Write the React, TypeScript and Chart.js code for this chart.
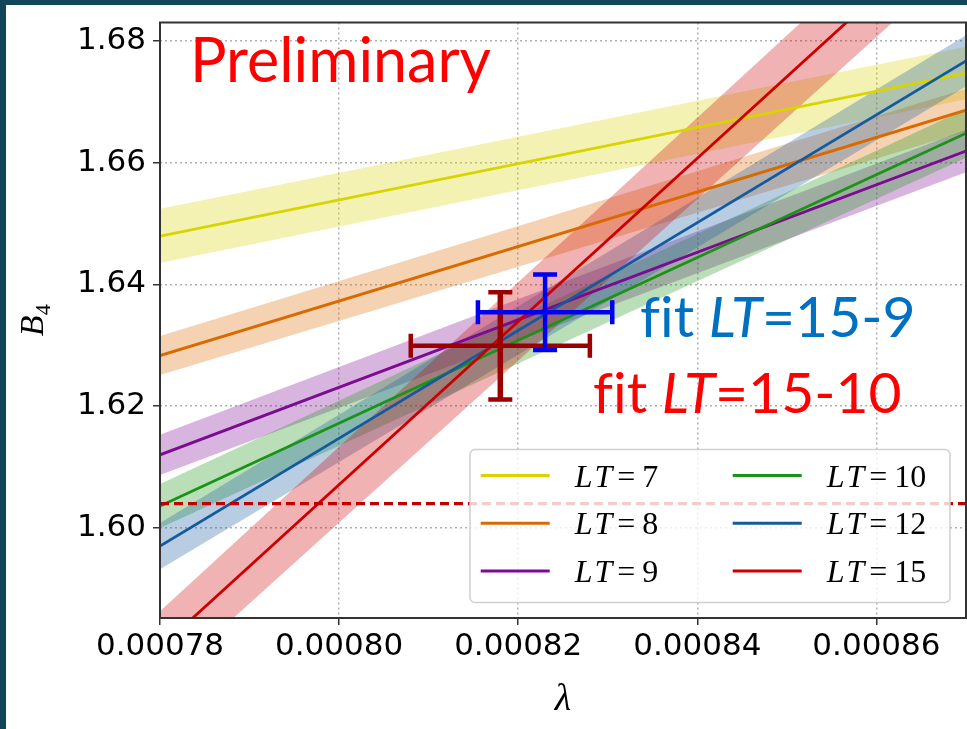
import React, { useEffect, useRef } from 'react';
import { Chart, registerables } from 'chart.js';

Chart.register(...registerables);

// ---------- data ----------
const lambdaRange = [0.00078, 0.00087];
const yRange = [1.5852, 1.683];
const xTicks = [0.00078, 0.0008, 0.00082, 0.00084, 0.00086];
const yTicks = [1.6, 1.62, 1.64, 1.66, 1.68];

const seriesLT = ['7', '8', '9', '10', '12', '15'];
const seriesColors = ['#d8d400', '#d96a00', '#7d0a92', '#1a9414', '#135a9e', '#cc0000'];

const lt7Center = [1.6479, 1.6747];
const lt7Upper = [1.6524, 1.679];
const lt7Lower = [1.6435, 1.6704];
const lt8Center = [1.6283, 1.6686];
const lt8Upper = [1.6315, 1.6721];
const lt8Lower = [1.6251, 1.6651];
const lt9Center = [1.612, 1.6619];
const lt9Upper = [1.6153, 1.6654];
const lt9Lower = [1.6087, 1.6584];
const lt10Center = [1.6036, 1.6648];
const lt10Upper = [1.6072, 1.6688];
const lt10Lower = [1.6, 1.6608];
const lt12Center = [1.597, 1.6767];
const lt12Upper = [1.6008, 1.6809];
const lt12Lower = [1.5932, 1.6725];
const lt15Center = [1.5803, 1.7009];
const lt15Upper = [1.5863, 1.7079];
const lt15Lower = [1.5743, 1.6939];

const refB4 = [1.604, 1.604];

const fitNames = ['15-10', '15-9'];
const fitLambda = [0.000818, 0.000823];
const fitLambdaErr = [0.00001, 0.0000075];
const fitB4 = [1.6299, 1.6354];
const fitB4Err = [0.0088, 0.0062];
const fitBarColors = ['#9b0000', '#0000f0'];
const fitTextColors = ['#ff0000', '#0070c0'];

const centers = [lt7Center, lt8Center, lt9Center, lt10Center, lt12Center, lt15Center];
const uppers = [lt7Upper, lt8Upper, lt9Upper, lt10Upper, lt12Upper, lt15Upper];
const lowers = [lt7Lower, lt8Lower, lt9Lower, lt10Lower, lt12Lower, lt15Lower];

function hexA(hex: string, a: number) {
  const n = parseInt(hex.slice(1), 16);
  return `rgba(${(n >> 16) & 255},${(n >> 8) & 255},${n & 255},${a})`;
}

const pts = (ys: number[]) => lambdaRange.map((x, k) => ({ x, y: ys[k] }));

function drawRich(ctx: CanvasRenderingContext2D, parts: [string, boolean][], x: number, y: number, size: number, family: string, color: string) {
  ctx.fillStyle = color;
  ctx.textBaseline = 'alphabetic';
  ctx.textAlign = 'left';
  let cx = x;
  for (const [t, it] of parts) {
    ctx.font = `${it ? 'italic ' : ''}${size}px ${family}`;
    ctx.fillText(t, cx, y);
    cx += ctx.measureText(t).width;
  }
}

const overlayPlugin = {
  id: 'overlay',
  afterDatasetsDraw(chart: any) {
    const { ctx, scales } = chart;
    const xs = scales.x, ys = scales.y;
    ctx.save();
    ctx.lineCap = 'butt';
    fitLambda.forEach((lx, i) => {
      const cx = xs.getPixelForValue(lx);
      const cy = ys.getPixelForValue(fitB4[i]);
      const x0 = xs.getPixelForValue(lx - fitLambdaErr[i]);
      const x1 = xs.getPixelForValue(lx + fitLambdaErr[i]);
      const y0 = ys.getPixelForValue(fitB4[i] + fitB4Err[i]);
      const y1 = ys.getPixelForValue(fitB4[i] - fitB4Err[i]);
      const cap = 12;
      ctx.strokeStyle = fitBarColors[i];
      ctx.lineWidth = 4.5;
      ctx.beginPath();
      ctx.moveTo(x0, cy); ctx.lineTo(x1, cy);
      ctx.moveTo(x0, cy - cap); ctx.lineTo(x0, cy + cap);
      ctx.moveTo(x1, cy - cap); ctx.lineTo(x1, cy + cap);
      ctx.moveTo(cx - cap, y0); ctx.lineTo(cx + cap, y0);
      ctx.moveTo(cx - cap, y1); ctx.lineTo(cx + cap, y1);
      ctx.stroke();
      ctx.lineWidth = i === 0 ? 5.5 : 4.5;
      ctx.beginPath();
      ctx.moveTo(cx, y0); ctx.lineTo(cx, y1);
      ctx.stroke();
    });
    ctx.restore();
  },
  afterDraw(chart: any) {
    const { ctx, chartArea: a } = chart;
    ctx.save();
    // legend
    const lw = 480, lh = 153;
    const lx = a.right - 16 - lw, ly = a.bottom - 15.5 - lh;
    ctx.beginPath();
    ctx.roundRect(lx, ly, lw, lh, 5);
    ctx.fillStyle = 'rgba(255,255,255,0.8)';
    ctx.fill();
    ctx.strokeStyle = '#d0d0d0';
    ctx.lineWidth = 1.5;
    ctx.stroke();
    seriesLT.forEach((lt, i) => {
      const col = Math.floor(i / 3), row = i % 3;
      const ry = ly + 26 + row * 47.8;
      const bx = lx + 10.7 + col * 252;
      ctx.strokeStyle = seriesColors[i];
      ctx.lineWidth = 3;
      ctx.beginPath();
      ctx.moveTo(bx, ry); ctx.lineTo(bx + 69, ry);
      ctx.stroke();
      const tx = bx + 94;
      const base = ry + 11;
      ctx.fillStyle = '#000';
      ctx.textAlign = 'left';
      ctx.textBaseline = 'alphabetic';
      ctx.font = 'italic 32px "Liberation Serif"';
      ctx.fillText('L', tx, base);
      let cx = tx + ctx.measureText('L').width + 2;
      ctx.fillText('T', cx, base);
      cx += ctx.measureText('T').width + 5;
      ctx.font = '32px "Liberation Serif"';
      ctx.fillText('=', cx, base);
      cx += ctx.measureText('=').width + 7;
      ctx.fillText(lt, cx, base);
    });

    // frame
    ctx.strokeStyle = '#333';
    ctx.lineWidth = 2;
    ctx.strokeRect(a.left, a.top, a.right - a.left, a.bottom - a.top);

    // annotations
    drawRich(ctx, [['Preliminary', false]], a.left + 30, a.top + 59.5, 61, 'Lato', '#ff0000');
    drawRich(ctx, [['f', false], ['it ', false], ['LT', true], ['=' + fitNames[1], false]], 640, 337, 57, 'Lato', fitTextColors[1]);
    drawRich(ctx, [['f', false], ['it ', false], ['LT', true], ['=' + fitNames[0], false]], 593, 413, 57, 'Lato', fitTextColors[0]);

    // axis titles
    ctx.fillStyle = '#000';
    ctx.textAlign = 'center';
    ctx.textBaseline = 'alphabetic';
    ctx.font = 'italic 38px "Liberation Serif"';
    ctx.fillText('λ', (a.left + a.right) / 2, 710);

    ctx.translate(43, (a.top + a.bottom) / 2);
    ctx.rotate(-Math.PI / 2);
    ctx.textAlign = 'left';
    ctx.font = 'italic 34px "Liberation Serif"';
    const wB = ctx.measureText('B').width;
    ctx.font = '22px "Liberation Serif"';
    const w4 = ctx.measureText('4').width;
    const start = -(wB + w4) / 2;
    ctx.font = 'italic 34px "Liberation Serif"';
    ctx.fillText('B', start, 0);
    ctx.font = '22px "Liberation Serif"';
    ctx.fillText('4', start + wB, 7);
    ctx.restore();
  },
};

export default function App() {
  const ref = useRef<HTMLCanvasElement | null>(null);
  useEffect(() => {
    if (!ref.current) return;
    const datasets: any[] = [];
    centers.forEach((c, i) => {
      const lowIdx = datasets.length;
      datasets.push({
        label: 'low' + seriesLT[i],
        data: pts(lowers[i]),
        borderWidth: 0,
        pointRadius: 0,
        fill: false,
        order: 100 - i,
      });
      datasets.push({
        label: 'band' + seriesLT[i],
        data: pts(uppers[i]),
        borderWidth: 0,
        pointRadius: 0,
        backgroundColor: hexA(seriesColors[i], 0.3),
        fill: { target: lowIdx },
        order: 100 - i,
      });
    });
    centers.forEach((c, i) => {
      datasets.push({
        label: 'LT=' + seriesLT[i],
        data: pts(c),
        borderColor: seriesColors[i],
        borderWidth: 2.8,
        pointRadius: 0,
        fill: false,
        order: 50 - i,
      });
    });
    datasets.push({
      label: 'ref',
      data: pts(refB4),
      borderColor: '#c00000',
      borderWidth: 3.2,
      borderDash: [9, 5],
      pointRadius: 0,
      fill: false,
      order: 0,
    });

    const chart = new Chart(ref.current, {
      type: 'line',
      data: { datasets },
      options: {
        responsive: false,
        animation: false,
        devicePixelRatio: 1,
        layout: { padding: { top: 17, right: 1, left: 0, bottom: 0 } },
        plugins: { legend: { display: false }, tooltip: { enabled: false } },
        scales: {
          x: {
            type: 'linear',
            min: lambdaRange[0],
            max: lambdaRange[1],
            afterBuildTicks: (s: any) => { s.ticks = xTicks.map((v) => ({ value: v })); },
            afterFit: (s: any) => { s.height = 111; },
            ticks: {
              callback: (v: any) => Number(v).toFixed(5),
              font: { family: 'DejaVu Sans', size: 31, lineHeight: 1 },
              color: '#000',
              padding: 6,
              maxRotation: 0,
              minRotation: 0,
              autoSkip: false,
            },
            grid: { color: '#b0b0b0', lineWidth: 1.5, tickLength: 7, tickColor: '#333', tickWidth: 1.5 },
            border: { display: false, dash: [2, 3] },
          },
          y: {
            type: 'linear',
            min: yRange[0],
            max: yRange[1],
            afterBuildTicks: (s: any) => { s.ticks = yTicks.map((v) => ({ value: v })); },
            afterFit: (s: any) => { s.width = 160; },
            ticks: {
              callback: (v: any) => Number(v).toFixed(2),
              font: { family: 'DejaVu Sans', size: 31, lineHeight: 1 },
              color: '#000',
              padding: 7,
              autoSkip: false,
            },
            grid: { color: '#b0b0b0', lineWidth: 1.5, tickLength: 7, tickColor: '#333', tickWidth: 1.5 },
            border: { display: false, dash: [2, 3] },
          },
        },
      },
      plugins: [overlayPlugin],
    });
    return () => chart.destroy();
  }, []);

  return (
    <div style={{ position: 'fixed', left: 0, top: 0, width: 967, height: 729, background: '#fff', overflow: 'hidden' }}>
      <canvas ref={ref} width={967} height={729} style={{ display: 'block' }} />
      <div style={{ position: 'absolute', left: 0, top: 0, width: 967, height: 5, background: '#134559' }} />
      <div style={{ position: 'absolute', left: 0, top: 0, width: 6, height: 729, background: '#134559' }} />
    </div>
  );
}
